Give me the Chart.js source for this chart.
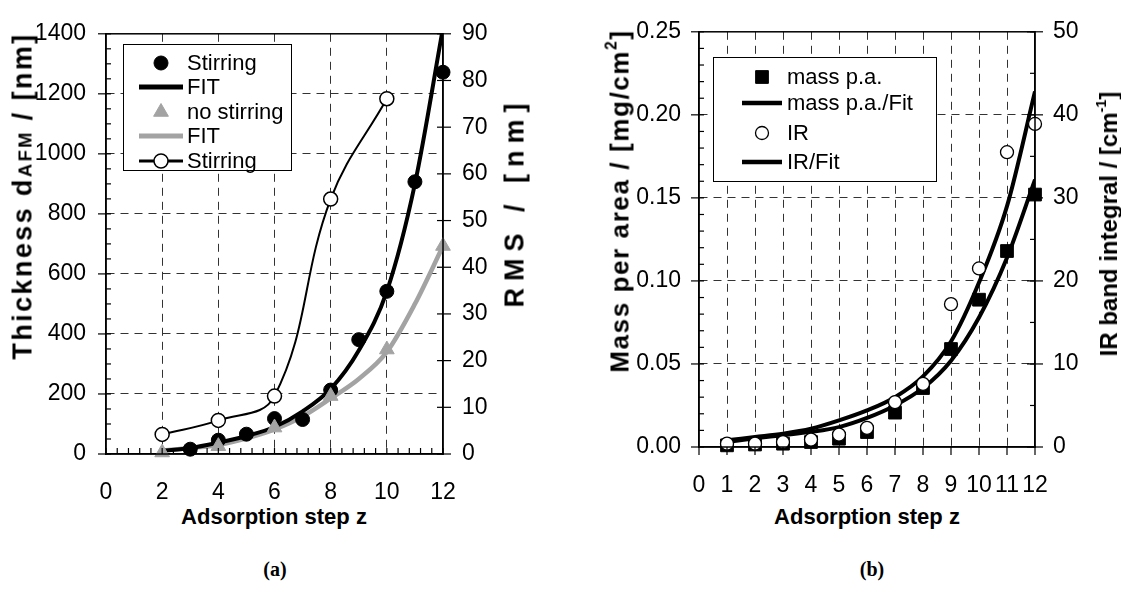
<!DOCTYPE html>
<html>
<head>
<meta charset="utf-8">
<script src="https://cdn.jsdelivr.net/npm/chart.js@4.4.1/dist/chart.umd.min.js"></script>
<style>
  body { margin: 0; width: 1121px; height: 597px; background: #fff; position: relative; overflow: hidden;
         font-family: "Liberation Sans", Arial, sans-serif; color: #000; }
  .box { position: absolute; top: 0; height: 500px; }
  .ttl { position: absolute; font-weight: bold; white-space: nowrap; transform: translate(-50%, -50%); }
  .rot { transform: translate(-50%, -50%) rotate(-90deg); }
  .ttl sup { font-size: 0.6em; vertical-align: 0.75em; line-height: 0; }
  .sc { font-size: 0.68em; }
  .lab { font-family: "Liberation Serif", "Times New Roman", serif; font-size: 20px; }
</style>
</head>
<body>
<div class="box" style="left:0;width:560px"><canvas id="chartA"></canvas></div>
<div class="box" style="left:560px;width:561px"><canvas id="chartB"></canvas></div>

<div class="ttl rot" style="left:23px;top:196px;font-size:27px;letter-spacing:2.4px">Thickness d<span class="sc">AFM</span> / [nm]</div>
<div class="ttl rot" style="left:515px;top:202px;font-size:27px;letter-spacing:7px">RMS / [nm]</div>
<div class="ttl" style="left:274px;top:517px;font-size:22px">Adsorption step z</div>
<div class="ttl lab" style="left:275px;top:569px;font-weight:bold">(a)</div>

<div class="ttl rot" style="left:620px;top:201px;font-size:26px;letter-spacing:1.6px">Mass per area / [mg/cm<sup>2</sup>]</div>
<div class="ttl rot" style="left:1109px;top:224px;font-size:24px">IR band integral / [cm<sup>-1</sup>]</div>
<div class="ttl" style="left:867px;top:517px;font-size:22px">Adsorption step z</div>
<div class="ttl lab" style="left:872px;top:569px;font-weight:bold">(b)</div>

<script>
// ---- (a) thickness and roughness ----
const stepsStir = [3, 4, 5, 6, 7, 8, 9, 10, 11, 12];
const thickStir = [16, 46, 66, 118, 115, 213, 381, 542, 907, 1272];
const stepsFit = [2, 3, 4, 5, 6, 7, 8, 9, 10, 11, 12];
const thickStirFit = [11, 20, 38, 60, 90, 142, 217, 345, 542, 900, 1420];
const stepsNoStir = [2, 4, 6, 8, 10, 12];
const thickNoStir = [5, 26, 88, 193, 348, 693];
const thickNoStirFit = [12, 20, 30, 52, 82, 125, 185, 250, 340, 500, 693];
const stepsRms = [2, 4, 6, 8, 10];
const rmsStir = [4.2, 7.2, 12.4, 54.6, 76.1];

// ---- (b) mass per area and IR band ----
const stepsB = [1, 2, 3, 4, 5, 6, 7, 8, 9, 10, 11, 12];
const massPA = [0.001, 0.0015, 0.002, 0.003, 0.005, 0.009, 0.0207, 0.0355, 0.059, 0.0887, 0.118, 0.152];
const massFit = [0.0031, 0.0052, 0.0071, 0.0091, 0.012, 0.0175, 0.025, 0.0355, 0.052, 0.078, 0.114, 0.161];
const irBand = [0.4, 0.4, 0.6, 0.9, 1.5, 2.3, 5.4, 7.6, 17.2, 21.5, 35.5, 38.9];
const irFit = [0.8, 1.2, 1.6, 2.2, 3.2, 4.4, 6.0, 8.5, 12.7, 19.8, 29.0, 42.8];

const pairs = (xs, ys) => xs.map((x, i) => ({ x: x, y: ys[i] }));
const GRID = '#333';
const GREY = '#a3a3a3';

Chart.defaults.font.family = '"Liberation Sans", Arial, sans-serif';
Chart.defaults.font.size = 23;
Chart.defaults.color = '#000';

// frame + tick marks (inner/outer) on every axis
const axisMarks = {
  id: 'axisMarks',
  afterDatasetsDraw(chart, args, opts) {
    const { ctx, chartArea: a } = chart;
    ctx.save();
    ctx.strokeStyle = '#000';
    ctx.lineWidth = 1.5;
    ctx.strokeRect(a.left, a.top, a.right - a.left, a.bottom - a.top);
    ctx.lineWidth = 1.2;
    opts.marks.forEach(m => {
      const s = chart.scales[m.scale];
      const n = Math.round((s.max - s.min) / m.step);
      for (let i = 0; i <= n; i++) {
        const p = s.getPixelForValue(s.min + i * m.step);
        ctx.beginPath();
        if (s.position === 'left') { ctx.moveTo(a.left - m.out, p); ctx.lineTo(a.left + m.in, p); }
        else if (s.position === 'right') { ctx.moveTo(a.right + m.out, p); ctx.lineTo(a.right - m.in, p); }
        else { ctx.moveTo(p, a.bottom + m.out); ctx.lineTo(p, a.bottom - m.in); }
        ctx.stroke();
      }
    });
    ctx.restore();
  }
};

// boxed legend like the original figure
const boxLegend = {
  id: 'boxLegend',
  afterDraw(chart, args, o) {
    const ctx = chart.ctx;
    ctx.save();
    ctx.fillStyle = '#fff';
    ctx.fillRect(o.x, o.y, o.w, o.h);
    ctx.strokeStyle = '#000';
    ctx.lineWidth = 1;
    ctx.strokeRect(o.x + 0.5, o.y + 0.5, o.w, o.h);
    ctx.font = '22px "Liberation Sans", Arial, sans-serif';
    ctx.textBaseline = 'middle';
    o.items.forEach((it, i) => {
      const ds = chart.data.datasets[it.ds];
      const y = o.rows[i];
      if (it.line) {
        ctx.strokeStyle = ds.borderColor;
        ctx.lineWidth = it.lw;
        ctx.beginPath();
        ctx.moveTo(o.sx - o.half, y);
        ctx.lineTo(o.sx + o.half, y);
        ctx.stroke();
      }
      if (it.point) {
        ctx.fillStyle = ds.pointBackgroundColor;
        ctx.strokeStyle = ds.pointBorderColor;
        ctx.lineWidth = ds.pointBorderWidth;
        Chart.helpers.drawPoint(ctx, { pointStyle: ds.pointStyle, radius: ds.pointRadius,
          borderWidth: ds.pointBorderWidth, rotation: 0 }, o.sx, y);
      }
      ctx.fillStyle = '#000';
      ctx.fillText(it.text, o.tx, y + 1);
    });
    ctx.restore();
  }
};

const innerGrid = (lo, hi) => (c => (c.tick.value > lo && c.tick.value < hi) ? GRID : 'rgba(0,0,0,0)');
const plain = v => String(v);

new Chart(document.getElementById('chartA'), {
  type: 'line',
  data: {
    datasets: [
      { label: 'no stirring', data: pairs(stepsNoStir, thickNoStir), yAxisID: 'y', showLine: false, clip: false,
        pointStyle: 'triangle', pointRadius: 8.5, pointBackgroundColor: GREY, pointBorderColor: GREY, pointBorderWidth: 1,
        borderColor: GREY, backgroundColor: GREY },
      { label: 'Stirring', data: pairs(stepsStir, thickStir), yAxisID: 'y', showLine: false, clip: false,
        pointStyle: 'circle', pointRadius: 7, pointBackgroundColor: '#000', pointBorderColor: '#000', pointBorderWidth: 1,
        borderColor: '#000', backgroundColor: '#000' },
      { label: 'Stirring RMS', data: pairs(stepsRms, rmsStir), yAxisID: 'y1', borderColor: '#000', borderWidth: 2,
        tension: 0.4, pointStyle: 'circle', pointRadius: 7, pointBackgroundColor: '#fff', pointBorderColor: '#000',
        pointBorderWidth: 1.5, backgroundColor: '#fff' },
      { label: 'FIT', data: pairs(stepsFit, thickStirFit), yAxisID: 'y', borderColor: '#000', borderWidth: 4,
        cubicInterpolationMode: 'monotone', pointRadius: 0 },
      { label: 'FIT', data: pairs(stepsFit, thickNoStirFit), yAxisID: 'y', borderColor: GREY, borderWidth: 4.5,
        cubicInterpolationMode: 'monotone', pointRadius: 0 }
    ]
  },
  options: {
    responsive: true,
    maintainAspectRatio: false,
    animation: false,
    layout: { padding: { top: 27 } },
    plugins: {
      legend: { display: false },
      tooltip: { enabled: false },
      axisMarks: { marks: [
        { scale: 'y', step: 200, in: 0, out: 8 },
        { scale: 'y', step: 50, in: 5, out: 0 },
        { scale: 'y1', step: 10, in: 6, out: 8 },
        { scale: 'x', step: 0.4, in: 6, out: 0 }
      ] },
      boxLegend: {
        x: 123, y: 44, w: 168, h: 126, sx: 161, half: 22, tx: 187,
        rows: [63, 87, 112, 136, 161],
        items: [
          { ds: 1, text: 'Stirring', point: true },
          { ds: 3, text: 'FIT', line: true, lw: 5 },
          { ds: 0, text: 'no stirring', point: true },
          { ds: 4, text: 'FIT', line: true, lw: 5 },
          { ds: 2, text: 'Stirring', line: true, lw: 3, point: true }
        ]
      }
    },
    scales: {
      x: {
        type: 'linear', min: 0, max: 12,
        ticks: { stepSize: 2, padding: 25, autoSkip: false, maxRotation: 0, minRotation: 0, callback: plain },
        grid: { color: innerGrid(0, 12), drawTicks: false, lineWidth: 1 },
        border: { color: '#000', width: 1.5, dash: [8, 6] },
        afterFit: s => { s.height = 46; }
      },
      y: {
        position: 'left', min: 0, max: 1400,
        ticks: { stepSize: 200, padding: 20, callback: plain },
        grid: { color: innerGrid(0, 1400), drawTicks: false, lineWidth: 1 },
        border: { color: '#000', width: 1.5, dash: [8, 6] },
        afterFit: s => { s.width = 106; }
      },
      y1: {
        position: 'right', min: 0, max: 90,
        ticks: { stepSize: 10, padding: 19, callback: plain },
        grid: { display: false, drawTicks: false },
        border: { color: '#000', width: 1.5 },
        afterFit: s => { s.width = 117; }
      }
    }
  },
  plugins: [axisMarks, boxLegend]
});

new Chart(document.getElementById('chartB'), {
  type: 'line',
  data: {
    datasets: [
      { label: 'IR', data: pairs(stepsB, irBand), yAxisID: 'y1', showLine: false, clip: false,
        pointStyle: 'circle', pointRadius: 6.5, pointBackgroundColor: '#fff', pointBorderColor: '#000', pointBorderWidth: 1.3,
        borderColor: '#000', backgroundColor: '#fff' },
      { label: 'mass p.a.', data: pairs(stepsB, massPA), yAxisID: 'y', showLine: false, clip: false,
        pointStyle: 'rect', pointRadius: 9, pointBackgroundColor: '#000', pointBorderColor: '#000', pointBorderWidth: 1,
        borderColor: '#000', backgroundColor: '#000' },
      { label: 'mass p.a./Fit', data: pairs(stepsB, massFit), yAxisID: 'y', borderColor: '#000', borderWidth: 4,
        cubicInterpolationMode: 'monotone', pointRadius: 0 },
      { label: 'IR/Fit', data: pairs(stepsB, irFit), yAxisID: 'y1', borderColor: '#000', borderWidth: 4,
        cubicInterpolationMode: 'monotone', pointRadius: 0 }
    ]
  },
  options: {
    responsive: true,
    maintainAspectRatio: false,
    animation: false,
    layout: { padding: { top: 25 } },
    plugins: {
      legend: { display: false },
      tooltip: { enabled: false },
      axisMarks: { marks: [
        { scale: 'y', step: 0.05, in: 0, out: 8 },
        { scale: 'y', step: 0.01, in: 5, out: 0 },
        { scale: 'y1', step: 10, in: 8, out: 8 },
        { scale: 'y1', step: 5, in: 5, out: 0 },
        { scale: 'x', step: 1, in: 0, out: 8 }
      ] },
      boxLegend: {
        x: 153, y: 57, w: 223, h: 124, sx: 202, half: 20, tx: 227,
        rows: [77, 103, 133, 162],
        items: [
          { ds: 1, text: 'mass p.a.', point: true },
          { ds: 2, text: 'mass p.a./Fit', line: true, lw: 4.5 },
          { ds: 0, text: 'IR', point: true },
          { ds: 3, text: 'IR/Fit', line: true, lw: 4.5 }
        ]
      }
    },
    scales: {
      x: {
        type: 'linear', min: 0, max: 12,
        ticks: { stepSize: 1, padding: 25, autoSkip: false, maxRotation: 0, minRotation: 0, callback: plain },
        grid: { color: innerGrid(0, 12), drawTicks: false, lineWidth: 1 },
        border: { color: '#000', width: 1.5, dash: [8, 6] },
        afterFit: s => { s.height = 53; }
      },
      y: {
        position: 'left', min: 0, max: 0.25,
        ticks: { stepSize: 0.05, padding: 18, callback: v => v.toFixed(2) },
        grid: { color: innerGrid(0.001, 0.249), drawTicks: false, lineWidth: 1 },
        border: { color: '#000', width: 1.5, dash: [8, 6] },
        afterFit: s => { s.width = 139; }
      },
      y1: {
        position: 'right', min: 0, max: 50,
        ticks: { stepSize: 10, padding: 18, callback: plain },
        grid: { display: false, drawTicks: false },
        border: { color: '#000', width: 1.5 },
        afterFit: s => { s.width = 86; }
      }
    }
  },
  plugins: [axisMarks, boxLegend]
});
</script>
</body>
</html>
